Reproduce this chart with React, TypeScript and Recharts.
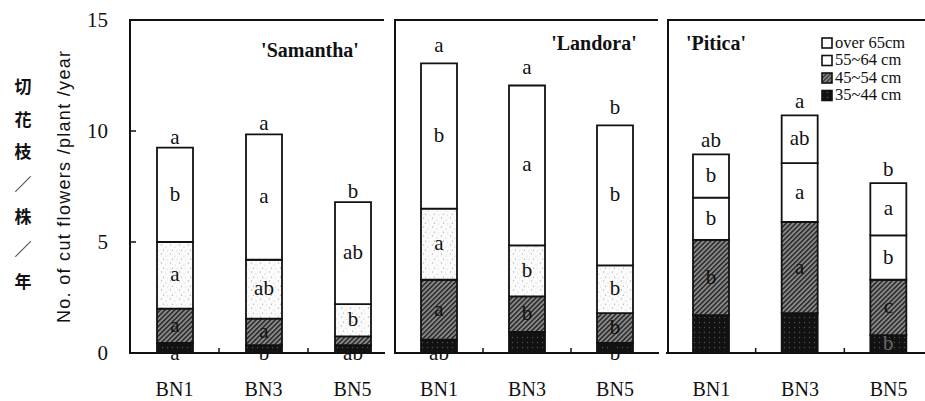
import React from 'react';
import { BarChart, Bar, XAxis, YAxis, LabelList } from 'recharts';

const categories = ['BN1', 'BN3', 'BN5'];
const cultivarNames = ["'Samantha'", "'Landora'", "'Pitica'"];
const legendLabels = ['over 65cm', '55~64 cm', '45~54 cm', '35~44 cm'];
const yTicks = [0, 5, 10, 15];
const yAxisTitle = 'No. of cut flowers /plant /year';
const yAxisTitleZh = ['切', '花', '枝', '／', '株', '／', '年'];

// 'Samantha'
const samantha35to44 = [0.45, 0.35, 0.35];
const samantha45to54 = [1.55, 1.2, 0.4];
const samantha55to64 = [3.0, 2.65, 1.45];
const samanthaOver65 = [4.25, 5.65, 4.6];
const samanthaL35to44 = ['a', 'b', 'ab'];
const samanthaL45to54 = ['a', 'a', ''];
const samanthaL55to64 = ['a', 'ab', 'b'];
const samanthaLOver65 = ['b', 'a', 'ab'];
const samanthaLTotal = ['a', 'a', 'b'];

// 'Landora'
const landora35to44 = [0.6, 0.95, 0.45];
const landora45to54 = [2.7, 1.6, 1.35];
const landora55to64 = [3.2, 2.3, 2.15];
const landoraOver65 = [6.55, 7.2, 6.3];
const landoraL35to44 = ['ab', '', 'b'];
const landoraL45to54 = ['a', 'b', 'b'];
const landoraL55to64 = ['a', 'b', 'b'];
const landoraLOver65 = ['b', 'a', 'b'];
const landoraLTotal = ['a', 'a', 'b'];

// 'Pitica'
const pitica35to44 = [1.7, 1.8, 0.8];
const pitica45to54 = [3.4, 4.1, 2.5];
const pitica55to64 = [1.9, 2.65, 2.0];
const piticaOver65 = [1.95, 2.15, 2.35];
const piticaL35to44 = ['', '', 'b'];
const piticaL45to54 = ['b', 'a', 'c'];
const piticaL55to64 = ['b', 'a', 'b'];
const piticaLOver65 = ['b', 'ab', 'a'];
const piticaLTotal = ['ab', 'a', 'b'];

const buildRows = (d, h, p, w, ld, lh, lp, lw, lt) =>
  categories.map((cat, k) => ({
    cat,
    d: d[k], h: h[k], p: p[k], w: w[k],
    ld: ld[k], lh: lh[k], lp: lp[k], lw: lw[k], lt: lt[k],
  }));

const panelRows = [
  buildRows(samantha35to44, samantha45to54, samantha55to64, samanthaOver65,
    samanthaL35to44, samanthaL45to54, samanthaL55to64, samanthaLOver65, samanthaLTotal),
  buildRows(landora35to44, landora45to54, landora55to64, landoraOver65,
    landoraL35to44, landoraL45to54, landoraL55to64, landoraLOver65, landoraLTotal),
  buildRows(pitica35to44, pitica45to54, pitica55to64, piticaOver65,
    piticaL35to44, piticaL45to54, piticaL55to64, piticaLOver65, piticaLTotal),
];

const SERIF = '"Liberation Serif", monospace';
const PLOT_TOP = 20;
const PLOT_BOTTOM = 353;

// layout of the three panels (plot-area left, plot width)
const panels = [
  { plotLeft: 130, plotWidth: 267, topOffset: 4, frameRight: 384 },
  { plotLeft: 395, plotWidth: 264, topOffset: 11, frameRight: 658 },
  { plotLeft: 667, plotWidth: 266, topOffset: 7, frameRight: 925 },
];

const serifStyle = { fontFamily: SERIF };

const getBox = (props) => {
  const vb = props.viewBox || {};
  return {
    x: props.x ?? vb.x,
    y: props.y ?? vb.y,
    width: props.width ?? vb.width,
    height: props.height ?? vb.height,
  };
};

const segLabel = (color) => (props) => {
  const { x, y, width, height } = getBox(props);
  const v = props.value;
  if (!v) return null;
  return (
    <text x={x + width / 2} y={y + height / 2 + 6} textAnchor="middle"
      style={serifStyle} fontSize={21} fill={color}>{v}</text>
  );
};

const darkLabel = (atBottom) => (props) => {
  const { x, y, width, height } = getBox(props);
  const v = props.value;
  if (!v) return null;
  const ty = atBottom ? y + height + 7 : y + height / 2 + 6;
  return (
    <text x={x + width / 2} y={ty} textAnchor="middle"
      style={serifStyle} fontSize={21} fill={atBottom ? '#111' : '#666'}>{v}</text>
  );
};

const topLabel = (offset) => (props) => {
  const { x, y, width } = getBox(props);
  const v = props.value;
  if (!v) return null;
  return (
    <text x={x + width / 2} y={y - offset} textAnchor="middle"
      style={serifStyle} fontSize={21} fill="#111">{v}</text>
  );
};

const makeTick = (band) => (props) => {
  const { x, payload, index } = props;
  return (
    <g>
      <text x={x} y={PLOT_BOTTOM + 43} textAnchor="middle" style={serifStyle}
        fontSize={20} fill="#111">{payload.value}</text>
      {index < 2 && (
        <line x1={x + band / 2} x2={x + band / 2} y1={PLOT_BOTTOM} y2={PLOT_BOTTOM - 5}
          stroke="#111" strokeWidth={1.5} />
      )}
    </g>
  );
};

function Patterns({ id }) {
  return (
    <defs>
      <pattern id={`hatch-${id}`} width={3.4} height={3.4} patternUnits="userSpaceOnUse"
        patternTransform="rotate(45)">
        <rect width={3.4} height={3.4} fill="#8a8a8a" />
        <rect width={1.5} height={3.4} fill="#262626" />
      </pattern>
      <pattern id={`dark-${id}`} width={5} height={5} patternUnits="userSpaceOnUse">
        <rect width={5} height={5} fill="#121212" />
        <circle cx={2.5} cy={2.5} r={0.7} fill="#505050" />
      </pattern>
      <pattern id={`dots-${id}`} width={9} height={9} patternUnits="userSpaceOnUse">
        <rect width={9} height={9} fill="#fbfbfb" />
        <circle cx={1.5} cy={2} r={0.7} fill="#b5b5b5" />
        <circle cx={6} cy={4} r={0.6} fill="#c5c5c5" />
        <circle cx={3.5} cy={7.2} r={0.6} fill="#aaa" />
        <circle cx={7.5} cy={8} r={0.5} fill="#ccc" />
      </pattern>
    </defs>
  );
}

function Panel({ idx }) {
  const p = panels[idx];
  const rows = panelRows[idx];
  const showY = idx === 0;
  const yW = showY ? 60 : 0;
  const left = p.plotLeft - yW;
  const band = p.plotWidth / 3;
  const pid = `p${idx}`;
  return (
    <div style={{ position: 'absolute', left, top: 0 }}>
      <BarChart width={p.plotWidth + yW} height={401} data={rows}
        margin={{ top: PLOT_TOP, right: 0, bottom: 18, left: 0 }}
        barCategoryGap={0} barGap={0}>
        <Patterns id={pid} />
        <XAxis dataKey="cat" height={30} axisLine={false} tickLine={false}
          tickSize={0} tickMargin={0} tick={makeTick(band)} interval={0} />
        <YAxis domain={[0, 15]} ticks={yTicks} hide={!showY} width={yW}
          allowDataOverflow
          axisLine={{ stroke: '#111', strokeWidth: 2 }}
          tickLine={{ stroke: '#111', strokeWidth: 1.5 }}
          tickSize={-6} tickMargin={28}
          tick={{ style: serifStyle, fontSize: 21, fill: '#111' }} />
        <Bar dataKey="d" stackId="s" barSize={36} fill={`url(#dark-${pid})`}
          stroke="#111" strokeWidth={1.8} isAnimationActive={false}>
          <LabelList dataKey="ld" content={darkLabel(idx < 2)} />
        </Bar>
        <Bar dataKey="h" stackId="s" barSize={36} fill={`url(#hatch-${pid})`}
          stroke="#111" strokeWidth={1.8} isAnimationActive={false}>
          <LabelList dataKey="lh" content={segLabel('#111')} />
        </Bar>
        <Bar dataKey="p" stackId="s" barSize={36}
          fill={idx === 2 ? '#ffffff' : `url(#dots-${pid})`}
          stroke="#111" strokeWidth={1.8} isAnimationActive={false}>
          <LabelList dataKey="lp" content={segLabel('#111')} />
        </Bar>
        <Bar dataKey="w" stackId="s" barSize={36} fill="#ffffff"
          stroke="#111" strokeWidth={1.8} isAnimationActive={false}>
          <LabelList dataKey="lw" content={segLabel('#111')} />
          <LabelList dataKey="lt" content={topLabel(p.topOffset)} />
        </Bar>
      </BarChart>
    </div>
  );
}

function Overlay() {
  const titlePos = [
    { x: 310, y: 57 },
    { x: 594, y: 50 },
    { x: 716, y: 50 },
  ];
  const legendFills = ['#ffffff', '#ffffff', 'url(#lg-hatch)', 'url(#lg-dark)'];
  return (
    <svg width={925} height={401} style={{ position: 'absolute', left: 0, top: 0, pointerEvents: 'none' }}>
      <defs>
        <pattern id="lg-hatch" width={3} height={3} patternUnits="userSpaceOnUse"
          patternTransform="rotate(45)">
          <rect width={3} height={3} fill="#8a8a8a" />
          <rect width={1.2} height={3} fill="#262626" />
        </pattern>
        <pattern id="lg-dark" width={5} height={5} patternUnits="userSpaceOnUse">
          <rect width={5} height={5} fill="#121212" />
          <circle cx={2.5} cy={2.5} r={0.8} fill="#505050" />
        </pattern>
      </defs>
      {panels.map((p, i) => (
        <g key={i}>
          <line x1={i === 0 ? p.plotLeft - 1 : p.plotLeft + (i === 2 ? 1 : 0)} x2={p.frameRight}
            y1={PLOT_TOP} y2={PLOT_TOP} stroke="#111" strokeWidth={2} />
          <line x1={p.plotLeft - 1} x2={p.frameRight + 1} y1={PLOT_BOTTOM} y2={PLOT_BOTTOM}
            stroke="#111" strokeWidth={2} />
          {i > 0 && (
            <line x1={p.plotLeft + (i === 2 ? 1 : 0)} x2={p.plotLeft + (i === 2 ? 1 : 0)}
              y1={PLOT_TOP - 1} y2={PLOT_BOTTOM + 1} stroke="#111" strokeWidth={2} />
          )}
          <text x={titlePos[i].x} y={titlePos[i].y} textAnchor="middle" style={serifStyle}
            fontWeight="bold" fontSize={20} fill="#111">{cultivarNames[i]}</text>
        </g>
      ))}
      <text transform="translate(70, 187) rotate(-90)" textAnchor="middle"
        style={{ fontFamily: '"Liberation Sans", monospace' }} fontSize={18} fill="#111"
        textLength={272} lengthAdjust="spacing">{yAxisTitle}</text>
      <text style={{ fontFamily: '"Noto Sans CJK TC", monospace' }} fontWeight={700}
        fontSize={17} fill="#111" textAnchor="middle">
        {yAxisTitleZh.map((c, k) => (
          <tspan key={k} x={23} y={93 + k * 32.5}>{c}</tspan>
        ))}
      </text>
      {legendLabels.map((lab, k) => (
        <g key={k}>
          <rect x={822} y={38 + k * 17.5} width={10} height={10} fill={legendFills[k]}
            stroke="#111" strokeWidth={1.6} />
          <text x={835} y={47.5 + k * 17.5} style={serifStyle} fontSize={16.5} fill="#111">{lab}</text>
        </g>
      ))}
    </svg>
  );
}

export default function App() {
  return (
    <div style={{ position: 'absolute', left: 0, top: 0, width: 925, height: 401,
      overflow: 'hidden', background: '#ffffff' }}>
      {panels.map((_, i) => <Panel key={i} idx={i} />)}
      <Overlay />
    </div>
  );
}
